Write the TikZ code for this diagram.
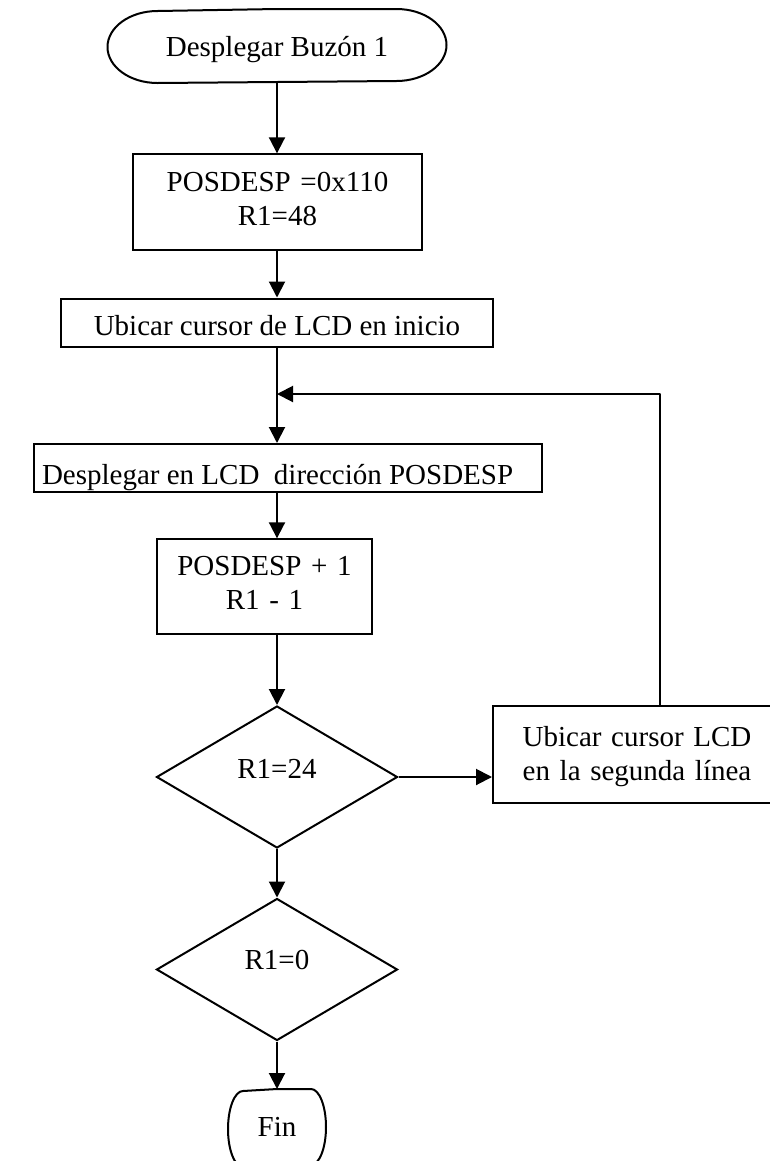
\documentclass[tikz,border=0pt]{standalone}
\usepackage{fontspec}
\setmainfont{Liberation Serif}
\usetikzlibrary{arrows.meta,shapes.geometric}
\begin{document}
\begin{tikzpicture}[x=0.75pt,y=-0.75pt,
  every node/.style={font=\fontsize{21.75pt}{25.5pt}\selectfont, inner sep=0pt, line width=1.5pt},
  flowline/.style={line width=1.5pt, line join=round},
  arrowline/.style={flowline, -{Triangle[length=12pt,width=12pt]}},
  procbox/.style={draw, align=center},
  decision/.style={draw, diamond, minimum width=180.75pt, minimum height=106.5pt},
  termnode/.style={draw=none}]

% page frame
\path[use as bounding box] (0,0) rectangle (770,1161);
\fill[white] (0,0) rectangle (770,1161);
\clip (0,0) rectangle (770,1161);

% main flow axis
\coordinate (ax) at (277,0);

% start terminator
\node[termnode, anchor=north, minimum width=252.75pt, text height=34.5pt, text depth=19.5pt]
  (st) at (277,9) {Desplegar Buzón 1};
\draw[flowline] (st.north) -- ([xshift=-37.5pt]st.north east)
  arc[start angle=90, end angle=-90, x radius=37.5pt, y radius=27pt]
  -- ([xshift=37.5pt]st.south west)
  arc[start angle=270, end angle=90, x radius=37.5pt, y radius=27pt] -- (st.north);

% initialisation
\node[procbox, anchor=north, text width=216.75pt, text height=28pt, text depth=44pt]
  (p1) at (277.5,153.3) {POSDESP =0x110\\R1=48};

% cursor home
\node[procbox, anchor=north, minimum width=324pt, text height=28.1pt, text depth=8pt]
  (ub) at (277,297.5) {Ubicar cursor de LCD en inicio};

% display at POSDESP (text clipped by its frame)
\node[draw, anchor=north, minimum width=381pt, minimum height=36pt] (disp) at (288,443) {};
\begin{scope}
  \clip ([xshift=0.75pt,yshift=0.75pt]disp.south west) rectangle ([xshift=-0.75pt,yshift=-0.75pt]disp.north east);
  \node[anchor=base west] (disptext) at (41,484.5) {Desplegar en LCD\ \ dirección POSDESP};
\end{scope}

% increment / decrement
\node[procbox, anchor=north, text width=161.25pt, text height=27.5pt, text depth=43.7pt]
  (p2) at (264.5,538.3) {POSDESP + 1\\R1 - 1};

% decisions
\node[decision] (d1) at (277,777) {};
\node[anchor=base] (d1t) at ([yshift=-0.75pt]d1.center) {R1=24};
\node[decision] (d2) at (277,969.5) {};
\node[anchor=base] (d2t) at (d2.center) {R1=0};

% second line
\node[procbox, anchor=north, text width=216pt, text height=30pt, text depth=42.75pt]
  (rb) at (637,705) {Ubicar cursor LCD\\en la segunda línea};

% end terminator
\node[termnode, anchor=north, minimum width=72pt, text height=34.5pt, text depth=22.5pt]
  (fin) at (277,1089) {Fin};
\draw[flowline] (fin.north) -- ([xshift=-11.25pt]fin.north east)
  arc[start angle=90, end angle=-90, x radius=11.25pt, y radius=28.5pt]
  -- ([xshift=11.25pt]fin.south west)
  arc[start angle=270, end angle=90, x radius=11.25pt, y radius=28.5pt] -- (fin.north);

% connectors
\draw[arrowline] (ax |- st.south) -- (ax |- p1.north);
\draw[arrowline] (ax |- p1.south) -- (ax |- ub.north);
\draw[arrowline] (ax |- ub.south) -- (ax |- disp.north);
\draw[arrowline] (ax |- disp.south) -- (ax |- p2.north);
\draw[arrowline] (ax |- p2.south) -- (d1.north);
\draw[arrowline] (d1.south) -- (d2.north);
\draw[arrowline] (d2.south) -- (fin.north);
\draw[arrowline] (d1.east) -- (d1.east -| rb.west);

% loop back to the display step
\coordinate (loop) at (660,394);
\coordinate (merge) at (ax |- loop);
\draw[arrowline] (rb.north -| loop) -- (loop) -- (merge);
\end{tikzpicture}
\end{document}
